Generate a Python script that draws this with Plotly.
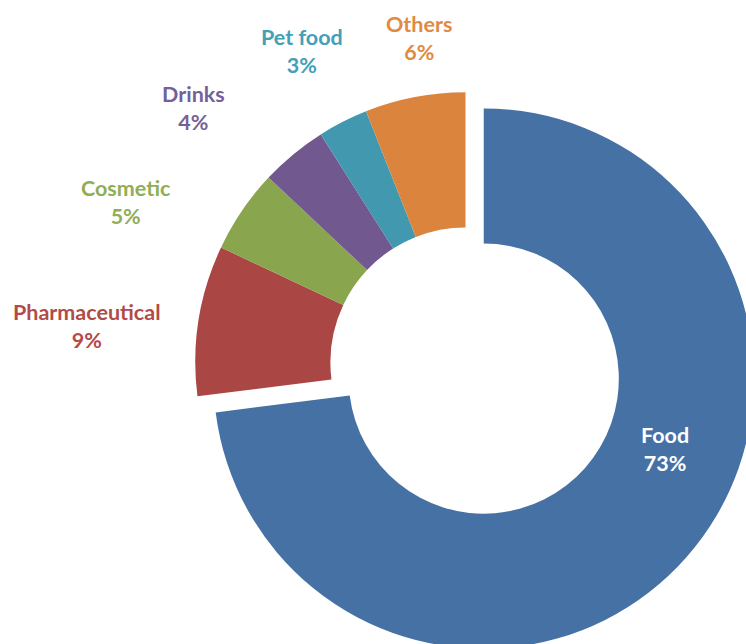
import plotly.graph_objects as go

# Market share by application segment
categories = ["Food", "Pharmaceutical", "Cosmetic", "Drinks", "Pet food", "Others"]
shares = [73, 9, 5, 4, 3, 6]
colors = ["#4671A5", "#AA4643", "#89A54E", "#71588F", "#4198AF", "#DB843D"]
pulls = [0.09, 0, 0, 0, 0, 0]

# Label anchor positions (pixels from the page's top-left corner)
label_px = [(665, 449), (86, 326), (126, 202), (193, 108), (302, 51), (419, 38)]
label_colors = ["#FFFFFF", "#B24B48", "#8FAE55", "#76609A", "#43A0B8", "#E08A44"]

W, H = 760, 657
ML, MT = 171, 68
PW, PH = W - ML, H - MT

fig = go.Figure(
    go.Pie(
        labels=categories,
        values=shares,
        hole=0.5,
        pull=pulls,
        sort=False,
        direction="clockwise",
        rotation=0,
        marker=dict(colors=colors, line=dict(width=0)),
        textinfo="none",
        hoverinfo="label+percent",
        showlegend=False,
    )
)

for cat, val, (px, py), col in zip(categories, shares, label_px, label_colors):
    fig.add_annotation(
        x=(px - ML) / PW,
        y=1 - (py - MT) / PH,
        xref="paper",
        yref="paper",
        xanchor="center",
        yanchor="middle",
        text=f"<b>{cat}</b><br><b>{val}%</b>",
        showarrow=False,
        font=dict(family="Lato", size=21.5, color=col),
        align="center",
    )

fig.update_layout(
    width=W,
    height=H,
    margin=dict(l=ML, r=0, t=MT, b=0, pad=0),
    paper_bgcolor="white",
    plot_bgcolor="white",
)

fig.write_html(
    "out.html",
    post_script=(
        "document.documentElement.style.overflow='hidden';"
        "document.body.style.overflow='hidden';"
        "document.body.style.margin='0';"
    ),
)
